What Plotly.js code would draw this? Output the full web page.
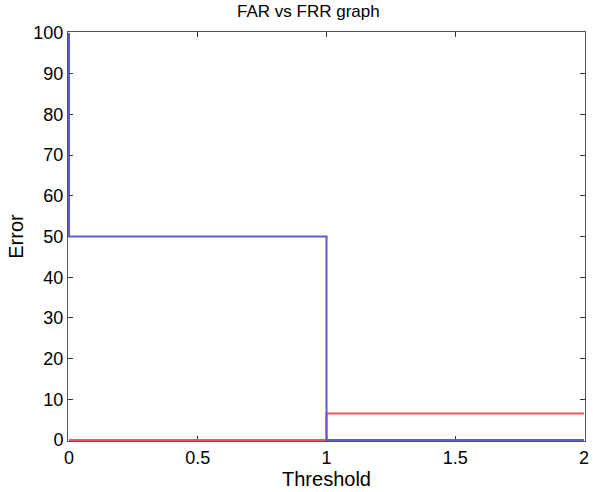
<!DOCTYPE html>
<html>
<head>
<script src="https://cdn.plot.ly/plotly-3.0.1.min.js"></script>
<style>html,body{margin:0;padding:0;background:#fff;}#chart{width:593px;height:492px;}</style>
</head>
<body>
<div id="chart"></div>
<script>
const farX = [0, 0, 1, 1, 2];
const farY = [100, 50, 50, 0, 0];
const frrX = [0, 1, 1, 2];
const frrY = [0, 0, 6.5, 6.5];
const xTicks = [0, 0.5, 1, 1.5, 2];
const xTickText = ['0', '0.5', '1', '1.5', '2'];
const yTicks = [0, 10, 20, 30, 40, 50, 60, 70, 80, 90, 100];

// 1px padding so lines lying on the frame are not clipped
const plotW = 517, plotH = 409;
const xPad = 2 / (plotW - 2), yPad = 100 / (plotH - 2);

const traces = [
  {x: frrX, y: frrY, mode: 'lines', name: 'FRR', cliponaxis: false, line: {color: '#e8585c', width: 2}},
  {x: farX, y: farY, mode: 'lines', name: 'FAR', cliponaxis: false, line: {color: '#5a5ad0', width: 2}}
];
const font = {family: 'Liberation Sans, Arial, sans-serif', size: 18, color: '#000'};
const titleFont = {family: font.family, size: 20, color: '#000'};
const layout = {
  width: 593, height: 492,
  margin: {l: 68, r: 8, t: 32, b: 51},
  paper_bgcolor: '#fff', plot_bgcolor: '#fff',
  showlegend: false,
  font: font,
  title: {text: 'FAR vs FRR graph', font: {family: font.family, size: 17, color: '#000'}, x: 0.52, xanchor: 'center', y: 0.99, yanchor: 'top'},
  xaxis: {
    range: [-xPad, 2 + xPad], tickvals: xTicks, ticktext: xTickText,
    ticks: 'inside', ticklen: 5, tickcolor: '#333', tickwidth: 1,
    showline: true, linecolor: '#555', linewidth: 1, mirror: 'ticks',
    showgrid: false, zeroline: false, layer: 'below traces',
    tickfont: font,
    title: {text: 'Threshold', font: titleFont, standoff: 2}
  },
  yaxis: {
    range: [-yPad, 100 + yPad], tickvals: yTicks,
    ticks: 'inside', ticklen: 5, tickcolor: '#333', tickwidth: 1,
    showline: true, linecolor: '#555', linewidth: 1, mirror: 'ticks',
    showgrid: false, zeroline: false, layer: 'below traces',
    tickfont: font,
    title: {text: 'Error', font: titleFont, standoff: 4}
  }
};
Plotly.newPlot('chart', traces, layout, {displayModeBar: false, staticPlot: true});
</script>
</body>
</html>
